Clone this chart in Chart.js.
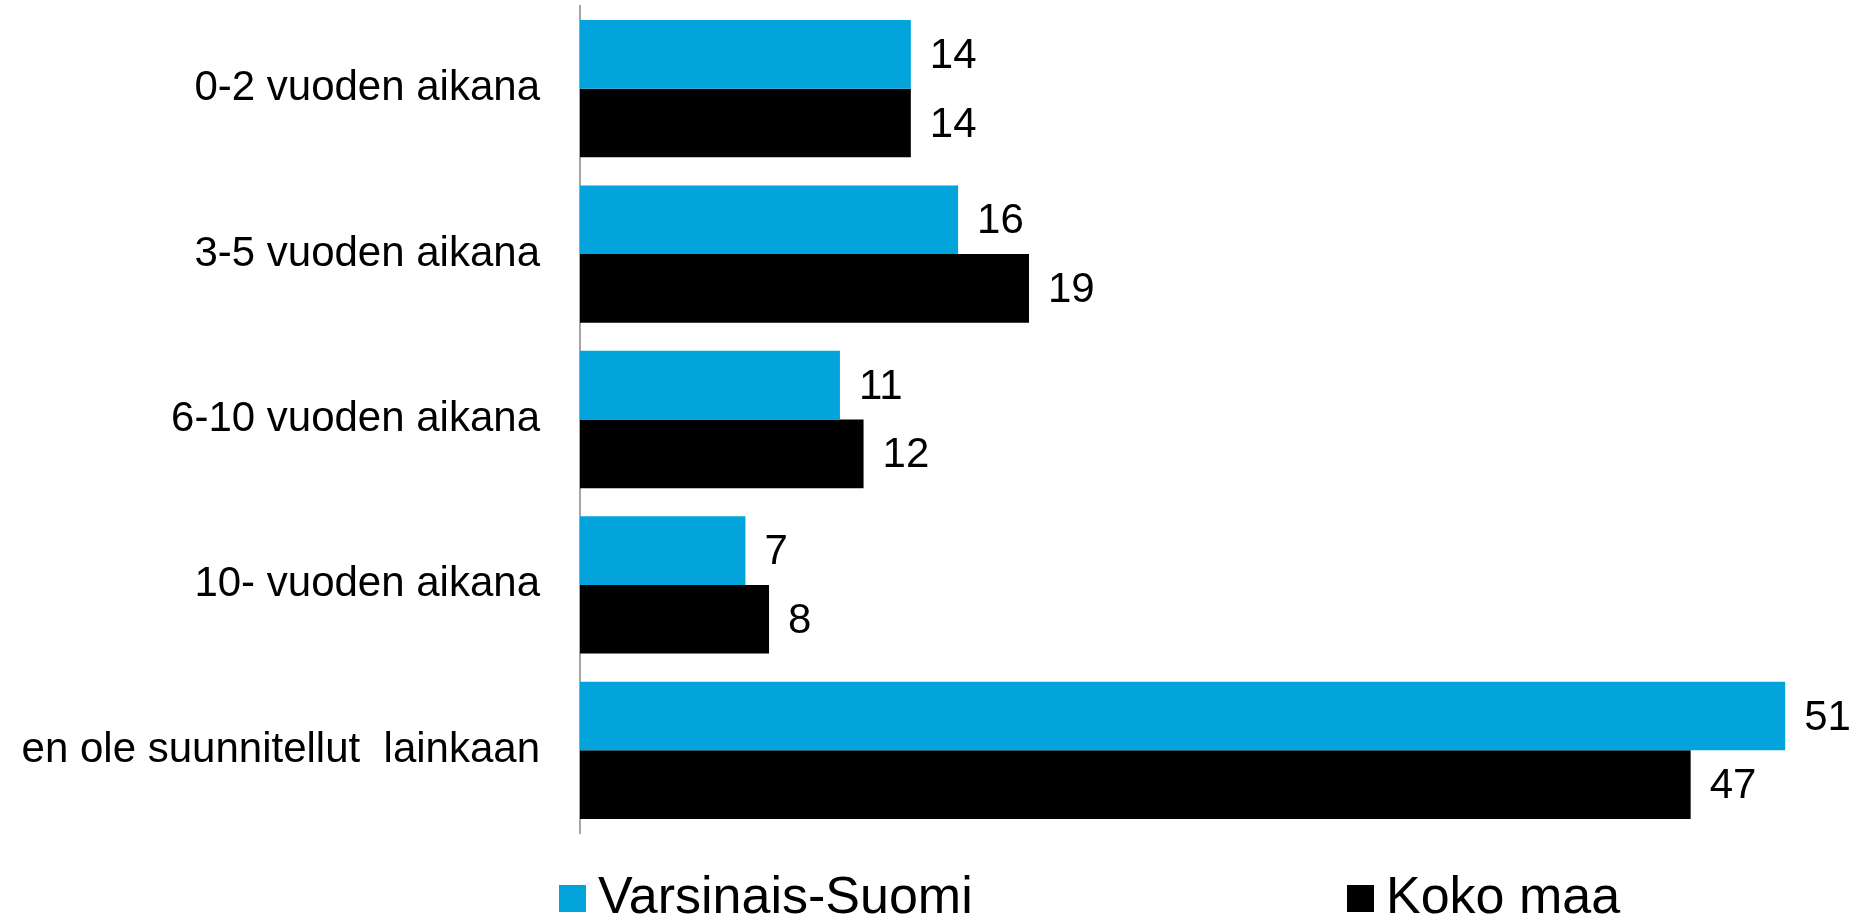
<!DOCTYPE html>
<html>
<head>
<meta charset="utf-8">
<script src="https://cdn.jsdelivr.net/npm/chart.js@4.4.1/dist/chart.umd.min.js"></script>
<style>
  html, body { margin: 0; padding: 0; background: #fff; }
  #wrap { width: 1857px; height: 919px; position: relative; }
</style>
</head>
<body>
<div id="wrap"><canvas id="barChart"></canvas></div>
<script>
const categories = ['0-2 vuoden aikana', '3-5 vuoden aikana', '6-10 vuoden aikana', '10- vuoden aikana', 'en ole suunnitellut  lainkaan'];
const seriesNames = ['Varsinais-Suomi', 'Koko maa'];
const varsinaisSuomi = [14, 16, 11, 7, 51];
const kokoMaa = [14, 19, 12, 8, 47];
const colors = ['#02A4DB', '#000000'];

const FONT = '"Liberation Sans", Arial, sans-serif';

// value labels at the end of each bar
const valueLabels = {
  id: 'valueLabels',
  afterDatasetsDraw(chart) {
    const c = chart.ctx;
    c.save();
    c.font = '42px ' + FONT;
    c.fillStyle = '#000';
    c.textAlign = 'left';
    c.textBaseline = 'middle';
    chart.data.datasets.forEach((ds, i) => {
      chart.getDatasetMeta(i).data.forEach((bar, j) => {
        c.fillText(String(ds.data[j]), bar.x + 19, bar.y + 2);
      });
    });
    c.restore();
  }
};

// legend at the bottom, items spread apart like the original
const wideLegend = {
  id: 'wideLegend',
  afterDraw(chart) {
    const c = chart.ctx;
    const starts = [559, 1347];
    c.save();
    c.font = '52px ' + FONT;
    c.textBaseline = 'alphabetic';
    c.textAlign = 'left';
    chart.data.datasets.forEach((ds, i) => {
      c.fillStyle = ds.backgroundColor;
      c.fillRect(starts[i], 885, 27, 27);
      c.fillStyle = '#000';
      c.fillText(ds.label, starts[i] + 39, 913);
    });
    c.restore();
  }
};

const ctx = document.getElementById('barChart');
const barChart = new Chart(ctx, {
  type: 'bar',
  data: {
    labels: categories,
    datasets: [{
      label: seriesNames[0],
      data: varsinaisSuomi,
      backgroundColor: colors[0],
      categoryPercentage: 0.83,
      barPercentage: 1
    }, {
      label: seriesNames[1],
      data: kokoMaa,
      backgroundColor: colors[1],
      categoryPercentage: 0.83,
      barPercentage: 1
    }]
  },
  options: {
    indexAxis: 'y',
    responsive: true,
    maintainAspectRatio: false,
    animation: false,
    layout: {
      padding: { top: 6, bottom: 86, right: 8, left: 0 }
    },
    scales: {
      x: {
        display: false,
        min: 0,
        max: 53.7
      },
      y: {
        grid: { display: false, drawTicks: false },
        border: { display: true, color: '#a6a6a6', width: 2 },
        ticks: {
          color: '#000',
          padding: 40,
          font: { family: FONT, size: 42 }
        },
        afterFit(scale) {
          scale.width = 580;
          scale.paddingTop = 0;
          scale.paddingBottom = 0;
        }
      }
    },
    plugins: {
      legend: { display: false },
      tooltip: { enabled: false },
      title: { display: false }
    }
  },
  plugins: [valueLabels, wideLegend]
});
</script>
</body>
</html>
